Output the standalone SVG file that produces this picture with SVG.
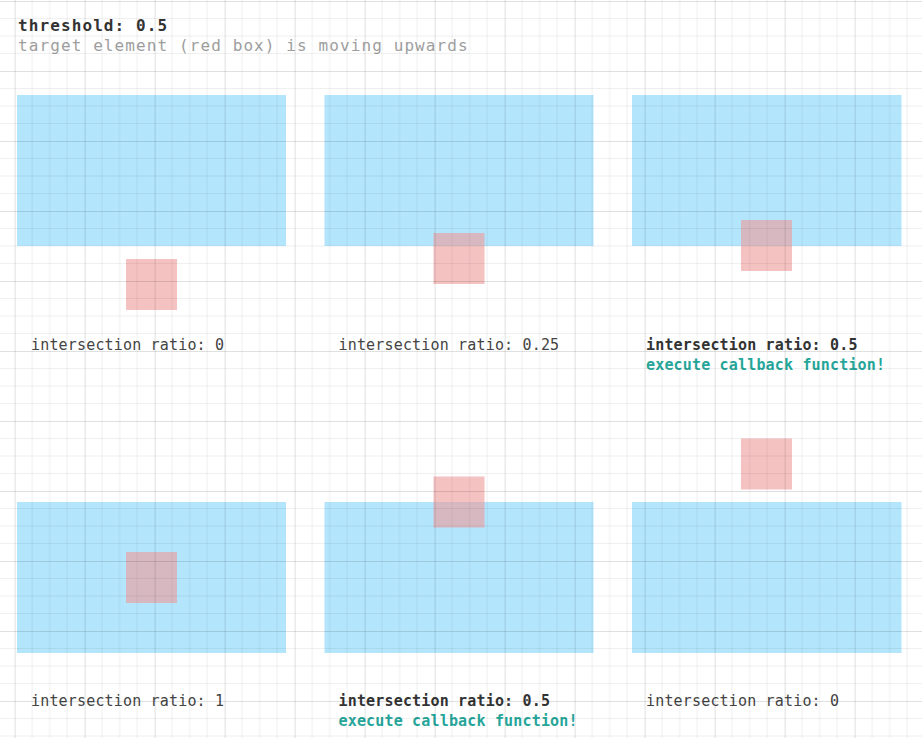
<svg xmlns="http://www.w3.org/2000/svg" width="922" height="738" viewBox="0 0 922 738">
  <defs>
    <pattern id="grid" patternUnits="userSpaceOnUse" x="14.6" y="1" width="70" height="70">
      <g stroke="#000" stroke-opacity="0.06" stroke-width="1">
        <line x1="17.5" y1="0" x2="17.5" y2="70"/>
        <line x1="35" y1="0" x2="35" y2="70"/>
        <line x1="52.5" y1="0" x2="52.5" y2="70"/>
        <line x1="0" y1="17.5" x2="70" y2="17.5"/>
        <line x1="0" y1="35" x2="70" y2="35"/>
        <line x1="0" y1="52.5" x2="70" y2="52.5"/>
      </g>
      <g stroke="#000" stroke-opacity="0.12" stroke-width="1">
        <line x1="0.5" y1="0" x2="0.5" y2="70"/>
        <line x1="0" y1="0.5" x2="70" y2="0.5"/>
      </g>
    </pattern>
    <style>
      .root { fill: #b3e5fc; }
      .target { fill: #ef9a9a; fill-opacity: 0.6; }
      .mono { font-family: "DejaVu Sans Mono", "Liberation Mono", monospace; }
      .title { font-size: 16px; font-weight: bold; fill: #333333; letter-spacing: 1.1px; }
      .sub { font-size: 16px; fill: #9e9e9e; letter-spacing: 1.1px; }
      .label { font-size: 15px; fill: #444444; letter-spacing: 0.17px; }
      .label.hit { font-weight: bold; fill: #333333; }
      .cb { font-size: 15px; font-weight: bold; fill: #26a69a; letter-spacing: 0.17px; }
    </style>
  </defs>

  <rect x="0" y="0" width="922" height="738" fill="#ffffff"/>

  <g id="header" class="mono">
    <text class="title" x="18" y="31">threshold: 0.5</text>
    <text class="sub" x="18" y="51">target element (red box) is moving upwards</text>
  </g>

  <g id="panel-1">
    <rect class="root" x="17" y="95" width="269" height="151"/>
    <rect class="target" x="126" y="259" width="51" height="51"/>
    <text class="mono label" x="31" y="350">intersection ratio: 0</text>
  </g>

  <g id="panel-2">
    <rect class="root" x="324.5" y="95" width="269" height="151"/>
    <rect class="target" x="433.5" y="233" width="51" height="51"/>
    <text class="mono label" x="338.5" y="350">intersection ratio: 0.25</text>
  </g>

  <g id="panel-3">
    <rect class="root" x="632" y="95" width="269.5" height="151"/>
    <rect class="target" x="741" y="220" width="51" height="51"/>
    <text class="mono label hit" x="646" y="350">intersection ratio: 0.5</text>
    <text class="mono cb" x="646" y="369.5">execute callback function!</text>
  </g>

  <g id="panel-4">
    <rect class="root" x="17" y="502" width="269" height="151"/>
    <rect class="target" x="126" y="552" width="51" height="51"/>
    <text class="mono label" x="31" y="706">intersection ratio: 1</text>
  </g>

  <g id="panel-5">
    <rect class="root" x="324.5" y="502" width="269" height="151"/>
    <rect class="target" x="433.5" y="476.5" width="51" height="51"/>
    <text class="mono label hit" x="338.5" y="706">intersection ratio: 0.5</text>
    <text class="mono cb" x="338.5" y="725.5">execute callback function!</text>
  </g>

  <g id="panel-6">
    <rect class="root" x="632" y="502" width="269.5" height="151"/>
    <rect class="target" x="741" y="438.5" width="51" height="51"/>
    <text class="mono label" x="646" y="706">intersection ratio: 0</text>
  </g>

  <rect id="grid-overlay" x="0" y="0" width="922" height="738" fill="url(#grid)" pointer-events="none"/>
</svg>
